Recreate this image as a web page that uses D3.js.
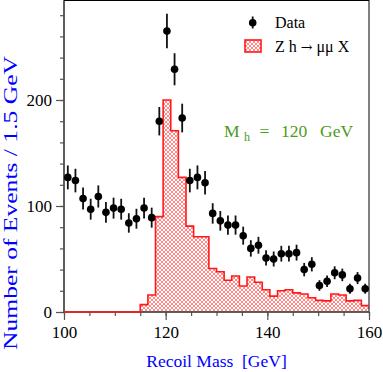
<!DOCTYPE html>
<html><head><meta charset="utf-8">
<script src="https://cdn.jsdelivr.net/npm/d3@7"></script>
<style>html,body{margin:0;padding:0;background:#fff;}svg{display:block;} text{white-space:pre;}</style>
</head><body>
<svg id="c" width="383" height="372"></svg>
<script>
// ---- data ----
const massCenters = [100.75,102.25,103.75,105.25,106.75,108.25,109.75,111.25,112.75,114.25,
  115.75,117.25,118.75,120.25,121.75,123.25,124.75,126.25,127.75,129.25,
  130.75,132.25,133.75,135.25,136.75,138.25,139.75,141.25,142.75,144.25,
  145.75,147.25,148.75,150.25,151.75,153.25,154.75,156.25,157.75,159.25];
const dataCounts = [127,124,107,97,109,94,98,97,84,88,
  98,89,180,265,229,183,124,127,122,93,
  86,82,82,72,60,63,51,50,55,55,
  56,40,45,25,29,37,35,22,32,22];
const signalCounts = [0,0,0,0,0,0,0,0,0,0,
  7,16,90,200,171,127,81,71,71,41,
  38,30,34,24.5,33,28,21,15,20,21,
  18,17,13.5,11,10.5,17,16,10.5,11,6];
const binWidth = 1.5;
const xTicks = [100,120,140,160];
const yTicks = [0,100,200];
const xTitle = "Recoil Mass  [GeV]";
const yTitle = "Number of Events / 1.5 GeV";
const legendData = "Data";
const legendSignal = ["Z h ", "\u2192", " \u03bc\u03bc X"];

// ---- layout ----
const L = 64, R = 369, T = 1, B = 312;
const svg = d3.select("#c");
const x = d3.scaleLinear().domain([100,160]).range([L,R]);
const y = d3.scaleLinear().domain([0,293.4]).range([B,T]);
const serif = "'Liberation Serif','Times New Roman',serif";

// hatch pattern
const defs = svg.append("defs");
const pat = defs.append("pattern").attr("id","hatch").attr("patternUnits","userSpaceOnUse")
  .attr("width",4).attr("height",4);
pat.append("rect").attr("width",4).attr("height",4).attr("fill","#fff");
pat.append("path").attr("d","M0,0L4,4M4,0L0,4M-1,1L1,-1M3,5L5,3M-1,3L1,5M3,-1L5,1")
  .attr("stroke","#ff6a6a").attr("stroke-width",0.8);

// histogram
const histPts = massCenters.map((c,i)=>[c-binWidth/2, signalCounts[i]]);
histPts.push([massCenters[massCenters.length-1]+binWidth/2, signalCounts[signalCounts.length-1]]);
const area = d3.area().curve(d3.curveStepAfter).x(d=>x(d[0])).y0(y(0)).y1(d=>y(d[1]));
const line = d3.line().curve(d3.curveStepAfter).x(d=>x(d[0])).y(d=>y(d[1]));
svg.append("path").datum(histPts).attr("d",area).attr("fill","url(#hatch)");

// axes
const xAxisMinor = d3.axisBottom(x).tickValues(d3.range(100,161,5)).tickSize(4).tickFormat("");
const xAxisMajor = d3.axisBottom(x).tickValues(xTicks).tickSize(8).tickFormat(d3.format("d"));
const yAxisMinor = d3.axisLeft(y).tickValues(d3.range(0,293,20)).tickSize(4).tickFormat("");
const yAxisMajor = d3.axisLeft(y).tickValues(yTicks).tickSize(8).tickFormat(d3.format("d"));
function styleAxis(g){
  g.select(".domain").remove();
  g.selectAll(".tick line").attr("stroke","#555").attr("stroke-width",1.2);
  g.selectAll("text").attr("font-family",serif).attr("font-size",17).attr("fill","#000");
}
svg.append("g").attr("transform",`translate(0,${B})`).call(xAxisMinor).call(styleAxis);
svg.append("g").attr("transform",`translate(0,${B})`).call(xAxisMajor).call(styleAxis)
  .selectAll("text").attr("dy",null).attr("y",26);
svg.append("g").attr("transform",`translate(${L},0)`).call(yAxisMinor).call(styleAxis);
svg.append("g").attr("transform",`translate(${L},0)`).call(yAxisMajor).call(styleAxis)
  .selectAll("text").attr("x",-12).attr("dy","0.33em");

// frame
svg.append("rect").attr("x",L).attr("y",T-0.5).attr("width",R-L).attr("height",B-T+0.5)
  .attr("fill","none").attr("stroke","#000").attr("stroke-width",1);
svg.append("line").attr("x1",L).attr("x2",L).attr("y1",T).attr("y2",B).attr("stroke","#555").attr("stroke-width",1.6);
svg.append("line").attr("x1",L).attr("x2",R).attr("y1",B).attr("y2",B).attr("stroke","#555").attr("stroke-width",1.6);

// histogram outline
svg.append("path").datum(histPts).attr("d",line).attr("fill","none")
  .attr("stroke","#ff1a1a").attr("stroke-width",1.6);

// data points
const pts = svg.append("g");
massCenters.forEach((c,i)=>{
  const v = dataCounts[i], e = Math.sqrt(v);
  pts.append("line").attr("x1",x(c)).attr("x2",x(c)).attr("y1",y(v-e)).attr("y2",y(v+e))
    .attr("stroke","#111").attr("stroke-width",1.8);
  pts.append("circle").attr("cx",x(c)).attr("cy",y(v)).attr("r",3.8).attr("fill","#000");
});

// legend
svg.append("line").attr("x1",252.7).attr("x2",252.7).attr("y1",16.5).attr("y2",28.5)
  .attr("stroke","#111").attr("stroke-width",1.8);
svg.append("circle").attr("cx",252.7).attr("cy",22.7).attr("r",3.8).attr("fill","#000");
svg.append("text").attr("x",275).attr("y",27.5).attr("font-family",serif).attr("font-size",16).text(legendData);
svg.append("rect").attr("x",245).attr("y",40).attr("width",16).attr("height",12)
  .attr("fill","url(#hatch)").attr("stroke","#ff1a1a").attr("stroke-width",1.6);
const sig = svg.append("text").attr("x",275).attr("y",51.5).attr("font-family",serif).attr("font-size",16);
sig.append("tspan").text(legendSignal[0]);
sig.append("tspan").attr("font-family","'DejaVu Serif',serif").attr("font-size",14).text(legendSignal[1]);
sig.append("tspan").text(legendSignal[2]);

// Mh label
const green = "#4c9a1c";
const mh = svg.append("g").attr("fill",green).attr("font-family",serif).attr("font-size",17.5);
mh.append("text").attr("x",224).attr("y",136.5).text("M");
mh.append("text").attr("x",244).attr("y",141).attr("font-size",12).text("h");
mh.append("text").attr("x",259.5).attr("y",136.5).text("=");
mh.append("text").attr("x",281).attr("y",136.5).text("120");
mh.append("text").attr("x",320).attr("y",136.5).text("GeV");

// titles
svg.append("text").attr("x",(L+R)/2).attr("y",367).attr("text-anchor","middle")
  .attr("font-family",serif).attr("font-size",17.5).attr("fill","#0000ff").text(xTitle);
svg.append("text").attr("transform","translate(17,203) rotate(-90)").attr("text-anchor","middle")
  .attr("font-family",serif).attr("font-size",19).attr("fill","#0000ff")
  .attr("textLength",294).attr("lengthAdjust","spacingAndGlyphs").text(yTitle);
</script>
</body></html>
